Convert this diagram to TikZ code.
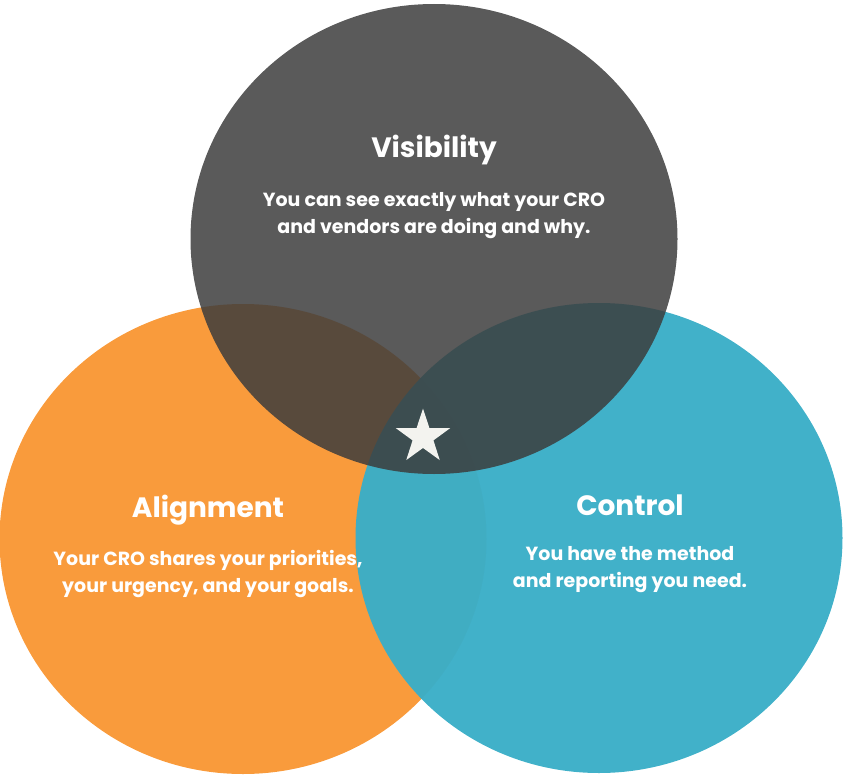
\documentclass[tikz,border=0pt]{standalone}
\usepackage{fontspec}
\setmainfont{Poppins}
\usetikzlibrary{shapes.geometric}
\definecolor{vgray}{RGB}{60,60,60}
\definecolor{vorange}{RGB}{249,155,60}
\definecolor{vblue}{RGB}{59,174,199}
\definecolor{vstar}{RGB}{243,243,239}
\tikzset{
  blob/.style={ellipse, inner sep=0pt, minimum width=487pt, minimum height=470pt},
  ttl/.style={text=white, font=\bfseries\fontsize{28}{32}\selectfont},
  body/.style={text=white, align=center, font=\bfseries\fontsize{19}{27}\selectfont}
}
\begin{document}
\begin{tikzpicture}[x=1pt,y=-1pt]
\useasboundingbox (0,0) rectangle (847,776);
\node[blob, fill=vorange] (align) at (243,539) {};
\node[blob, fill=vblue, fill opacity=0.97] (ctrl) at (599,538) {};
\node[blob, fill=vgray, fill opacity=0.846] (vis) at (434,239) {};
\node[star, star points=5, star point ratio=2.6, fill=vstar, inner sep=0pt, minimum size=57pt] (star) at (423,437) {};
\node[ttl] (vt) at (434,150) {Visibility};
\node[body] (vb) at (434,216) {You can see exactly what your CRO\\and vendors are doing and why.};
\node[ttl] (at) at (208,510) {Alignment};
\node[body] (ab) at (208,574) {Your CRO shares your priorities,\\your urgency, and your goals.};
\node[ttl] (ct) at (630,505) {Control};
\node[body] (cb) at (630,570) {You have the method\\and reporting you need.};
\end{tikzpicture}
\end{document}
